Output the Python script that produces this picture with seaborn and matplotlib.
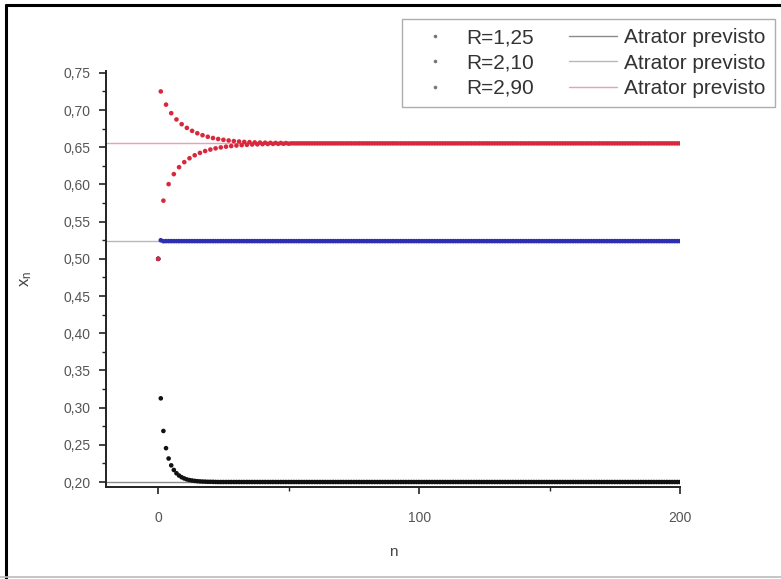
import numpy as np
import pandas as pd
import matplotlib
matplotlib.use("Agg")
import matplotlib.pyplot as plt
from matplotlib.lines import Line2D
from matplotlib.ticker import FuncFormatter, MultipleLocator
import seaborn as sns

# ---- data ----
labels = ["R=1,25", "R=2,10", "R=2,90"]
attractors = [0.2000, 0.5238, 0.6552]

x_r125 = [0.5, 0.3125, 0.2686, 0.2455, 0.2316, 0.2224, 0.2162, 0.2118, 0.2087,
          0.2064, 0.2048, 0.2035, 0.2026, 0.2020, 0.2015, 0.2011, 0.2008, 0.2006,
          0.2005, 0.2003, 0.2003, 0.2002, 0.2001] + [0.2000] * 178

x_r210 = [0.5, 0.525, 0.5237] + [0.5238] * 198

x_r290 = [0.5, 0.725, 0.5782, 0.7073, 0.6004, 0.6958, 0.6139, 0.6874, 0.6232,
          0.6810, 0.6300, 0.6760, 0.6352, 0.6720, 0.6392, 0.6688, 0.6424, 0.6662,
          0.6449, 0.6641, 0.6469, 0.6624, 0.6485, 0.6611, 0.6498, 0.6600, 0.6508,
          0.6591, 0.6516, 0.6583, 0.6523, 0.6577, 0.6529, 0.6572, 0.6533, 0.6569,
          0.6537, 0.6565, 0.6539, 0.6563, 0.6542, 0.6561, 0.6544, 0.6559, 0.6545,
          0.6558, 0.6546, 0.6557, 0.6547, 0.6556, 0.6548] + [0.6552] * 150

series = [x_r125, x_r210, x_r290]
point_colors = ["#111111", "#2b2fb0", "#d8283c"]
line_colors = ["#8a8a8a", "#b8b8b8", "#e8a3ab"]

sns.set_theme(style="white")
plt.rcParams["font.family"] = ["Liberation Sans", "DejaVu Sans"]

fig = plt.figure(figsize=(7.81, 5.79), dpi=100)
ax = fig.add_axes([106 / 781, 1 - 487 / 579, (680 - 106) / 781, (487 - 71) / 579])

line_handles = []
for a, lc in zip(attractors, line_colors):
    h = ax.axhline(a, color=lc, lw=1.0, zorder=1)
    line_handles.append(h)

pt_handles = []
for vals, lab, pc in zip(series, labels, point_colors):
    df = pd.DataFrame({"n": np.arange(len(vals)), "x": vals})
    sns.scatterplot(data=df, x="n", y="x", ax=ax, color=pc, s=11, marker="o",
                    edgecolor="none", linewidth=0, zorder=3, legend=False)
    pt_handles.append(Line2D([], [], ls="none", marker="o", ms=2.6,
                             color="#777777", mec="none"))

ax.set_xlim(-20, 200)
ax.set_ylim(0.1933, 0.7525)

ax.xaxis.set_major_locator(MultipleLocator(100))
ax.xaxis.set_minor_locator(MultipleLocator(50))
ax.yaxis.set_major_locator(MultipleLocator(0.05))
ax.yaxis.set_minor_locator(MultipleLocator(0.025))
ax.yaxis.set_major_formatter(FuncFormatter(lambda v, p: f"{v:.2f}".replace(".", ",")))

for s in ["top", "right"]:
    ax.spines[s].set_visible(False)
for s in ["left", "bottom"]:
    ax.spines[s].set_color("#222222")
    ax.spines[s].set_linewidth(1.4)

ax.tick_params(which="major", direction="out", length=5, width=1.2, color="#222222",
               labelsize=10, labelcolor="#555555", left=True, bottom=True)
ax.tick_params(axis="y", which="major", pad=6)
ax.tick_params(axis="x", which="major", pad=12)
ax.tick_params(which="minor", direction="out", length=3, width=1.0, color="#222222",
               left=True, bottom=True)

ax.set_xlabel("n", fontsize=11, color="#444444", labelpad=15)
ax.set_ylabel("$\\mathregular{x_n}$", fontsize=12, color="#444444", labelpad=21)

handles = pt_handles + line_handles
leg_labels = labels + ["Atrator previsto"] * 3
leg = ax.legend(handles, leg_labels, ncol=2, loc="upper left",
                bbox_to_anchor=(402 / 781, 1 - 104 / 579, (775 - 402) / 781, (104 - 19) / 579),
                bbox_transform=fig.transFigure, mode="expand",
                fontsize=15, frameon=True, fancybox=False, borderaxespad=0,
                handlelength=2.3, handletextpad=0.35, columnspacing=1.2,
                labelspacing=0.3, borderpad=0.45)
leg.get_frame().set_edgecolor("#999999")
leg.get_frame().set_linewidth(1.0)
for t in leg.get_texts():
    t.set_color("#333333")

# figure border
fig.add_artist(Line2D([6 / 781, 1], [1 - 5 / 579, 1 - 5 / 579], color="black", lw=2.2,
                      transform=fig.transFigure))
fig.add_artist(Line2D([6 / 781, 6 / 781], [0, 1 - 5 / 579], color="black", lw=2.2,
                      transform=fig.transFigure))
fig.add_artist(Line2D([0, 1], [1 - 577 / 579, 1 - 577 / 579], color="#bbbbbb", lw=1.2,
                      transform=fig.transFigure))

fig.savefig("out.png", dpi=100)
